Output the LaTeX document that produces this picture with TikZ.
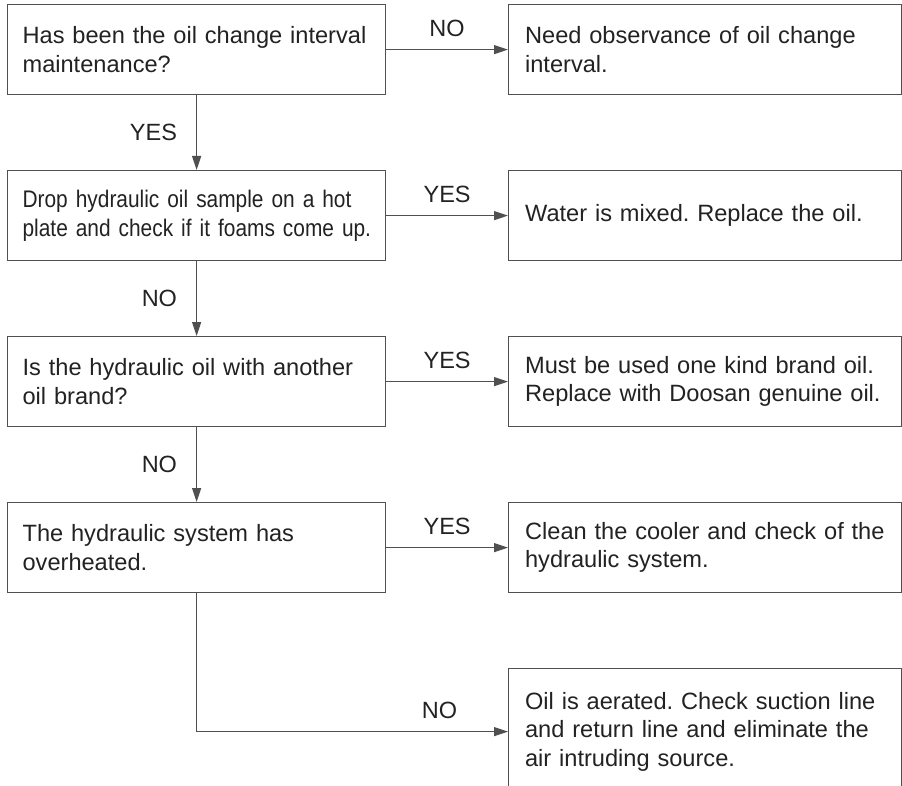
\documentclass[tikz,border=0pt]{standalone}
\usepackage{fontspec}
\setmainfont{Liberation Sans}
\usetikzlibrary{arrows.meta}
\definecolor{inkline}{HTML}{505050}
\definecolor{inktext}{HTML}{222222}
\frenchspacing
\hbadness=10000 \hfuzz=50pt
\newcommand{\oneline}[1]{\mbox{#1}}
\tikzset{
  x=1pt, y=-1pt,
  basefont/.style={font=\fontsize{23.6}{28.5}\selectfont, text=inktext},
  qbox/.style={basefont, draw=inkline, line width=1.2pt, rectangle, anchor=north west,
    minimum width=378, minimum height=90, text width=348pt, align=left, inner xsep=15pt},
  abox/.style={basefont, draw=inkline, line width=1.2pt, rectangle, anchor=north west,
    minimum width=393, minimum height=90, text width=360pt, align=left, inner xsep=16pt},
  flow/.style={draw=inkline, line width=1.2pt, -{Triangle[length=14pt,width=9pt]}},
  tag/.style={font=\fontsize{23.5}{28.5}\selectfont, text=inktext, inner sep=0pt},
}
\newfontfamily\narrowfont[FakeStretch=0.87]{Liberation Sans}
\begin{document}
\begin{tikzpicture}
\useasboundingbox (0,0) rectangle (902,786);
\clip (0,0) rectangle (902,786);

% question column
\node[qbox] (q1) at (7,4)   {\oneline{Has been the oil change interval}\\\oneline{maintenance?}};
\node[qbox, font=\narrowfont\fontsize{24}{28.5}\selectfont] (q2) at (7,170) {\oneline{Drop hydraulic oil sample on a hot}\\\oneline{plate and check if it foams come up.}};
\node[qbox] (q3) at (7,336) {\oneline{Is the hydraulic oil with another}\\\oneline{oil brand?}};
\node[qbox] (q4) at (7,502) {\oneline{The hydraulic system has}\\\oneline{overheated.}};

% answer column
\node[abox] (a1) at (508,4)   {\oneline{Need observance of oil change}\\\oneline{interval.}};
\node[abox] (a2) at (508,170) {\oneline{Water is mixed. Replace the oil.}};
\node[abox] (a3) at (508,336) {\oneline{Must be used one kind brand oil.}\\\oneline{Replace with Doosan genuine oil.}};
\node[abox] (a4) at (508,502) {\oneline{Clean the cooler and check of the}\\\oneline{hydraulic system.}};
\node[abox, minimum height=126] (a5) at (508,668) {\oneline{Oil is aerated. Check suction line}\\\oneline{and return line and eliminate the}\\\oneline{air intruding source.}};

% decisions
\draw[flow] (q1) -- node[tag, above=12pt] {NO} (a1);
\draw[flow] (q1) -- node[tag, left=19pt] {YES} (q2);
\draw[flow] (q2) -- node[tag, above=12pt] {YES} (a2);
\draw[flow] (q2) -- node[tag, left=19pt] {NO} (q3);
\draw[flow] (q3) -- node[tag, above=12pt] {YES} (a3);
\draw[flow] (q3) -- node[tag, left=19pt] {NO} (q4);
\draw[flow] (q4) -- node[tag, above=12pt] {YES} (a4);
\draw[flow] (q4.south) |- node[tag, above=12pt, pos=0.89] {NO} (a5.west);
\end{tikzpicture}
\end{document}
